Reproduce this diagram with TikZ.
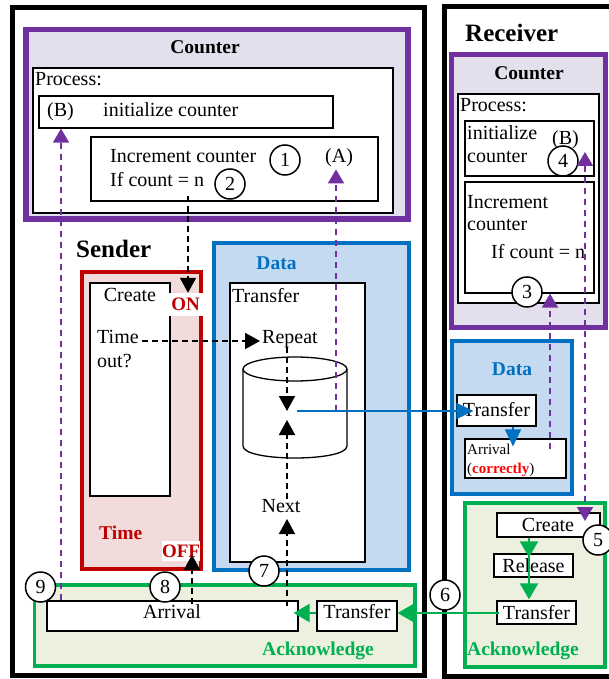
\documentclass[tikz,border=0pt]{standalone}
\usepackage{fontspec}
\setmainfont{Liberation Serif}
\usetikzlibrary{arrows.meta,fit,calc}
\definecolor{cpurple}{HTML}{7030A0}
\definecolor{clav}{HTML}{E4DFEC}
\definecolor{cred}{HTML}{C00000}
\definecolor{cpink}{HTML}{F2DCDB}
\definecolor{cblue}{HTML}{0070C0}
\definecolor{clblue}{HTML}{C5D9F1}
\definecolor{cgreen}{HTML}{00B050}
\definecolor{clgreen}{HTML}{EBF1DE}
\definecolor{cbright}{HTML}{FF0000}
\begin{document}
\begin{tikzpicture}[x=1pt,y=-1pt,
  frame/.style={draw=black, line width=5pt, inner sep=0pt},
  grp/.style={line width=4pt, inner sep=0pt},
  box/.style={draw=black, fill=white, line width=1.2pt, inner sep=0pt},
  num/.style={circle, draw=black, fill=white, line width=1.5pt, minimum size=30pt, inner sep=0pt, font=\fontsize{20}{20}\selectfont},
  txt/.style={inner sep=0pt, anchor=base west, font=\fontsize{20}{24}\selectfont},
  ctxt/.style={inner sep=0pt, anchor=base, font=\fontsize{20}{24}\selectfont},
  small/.style={inner sep=0pt, anchor=base west, font=\fontsize{15}{18}\selectfont},
  head/.style={inner sep=0pt, anchor=base west, font=\fontsize{19.5}{22}\selectfont\bfseries},
  title/.style={inner sep=0pt, anchor=base west, font=\fontsize{25}{30}\selectfont\bfseries},
  flag/.style={fill=white, inner sep=0pt, text=cred, font=\fontsize{19}{22}\selectfont\bfseries},
  blktip/.style={-{Triangle[width=16pt,length=15pt]}},
  purtip/.style={-{Triangle[width=16pt,length=14pt]}},
  blkdash/.style={draw=black, line width=1.8pt, dash pattern=on 6pt off 4pt, blktip},
  purdash/.style={draw=cpurple, line width=1.6pt, dash pattern=on 6pt off 5pt, purtip},
  bluearr/.style={draw=cblue, line width=1.6pt, -{Triangle[width=16pt,length=17pt]}},
  grnarr/.style={draw=cgreen, line width=2pt, -{Triangle[width=18pt,length=16pt]}},
]
\useasboundingbox (0,0) rectangle (608,679);
\fill[white] (0,0) rectangle (608,679);

% ---------------- outer frames ----------------
\node[frame, fit={(12,8) (424,675)}] (sender) {};
\node[frame, fit={(444,6.5) (625,676)}] (receiver) {};

% ---------------- sender: counter ----------------
\node[grp, draw=cpurple, fill=clav, line width=5.5pt, fit={(26,29.5) (408,219)}] (sCounter) {};
\node[head, anchor=base] (sCounterLbl) at (205,54) {Counter};
\node[box, fit={(33,68) (393,213)}] (sProc) {};
\node[txt] (sProcLbl) at (35,86) {Process:};
\node[box, fit={(39,96) (333,128)}] (sInit) {};
\node[txt] (sB) at (47,117) {(B)};
\node[txt] (sInitLbl) at (103,117) {initialize counter};
\node[box, fit={(91,137) (378,201)}] (sInc) {};
\node[txt] (sIncLbl) at (110,162) {Increment counter};
\node[txt] (sIf) at (110,186) {If count = n};
\node[txt] (sA) at (325,162) {(A)};
\node[num] (n1) at (285,160) {1};
\node[num] (n2) at (230,184) {2};

\node[title] (senderLbl) at (76,257) {Sender};

% ---------------- sender: time ----------------
\node[grp, draw=cred, fill=cpink, fit={(82,272) (201,569)}] (timeBox) {};
\node[box, fit={(90,283) (170,496)}] (sCreate) {};
\node[ctxt] (sCreateLbl) at (130,301) {Create};
\node[txt] (timeout1) at (97,343) {Time};
\node[txt] (timeout2) at (97,367) {out?};
\node[head, text=cred] (timeLbl) at (99,539) {Time};

% ---------------- sender: data ----------------
\node[grp, draw=cblue, fill=clblue, fit={(214,243) (409,570)}] (sData) {};
\node[head, text=cblue, anchor=base] (sDataLbl) at (276.5,269) {Data};
\node[box, fit={(230,283) (365,562)}] (sTrans) {};
\node[txt] (sTransLbl) at (232,302) {Transfer};
\node[txt] (repeat) at (262,343) {Repeat};
% buffer cylinder
\fill[white] (243,369) -- (243,446) .. controls (243,462) and (347,462) .. (347,446) -- (347,369) -- cycle;
\draw[line width=1.3pt] (243,369) -- (243,446) .. controls (243,462) and (347,462) .. (347,446) -- (347,369);
\draw[line width=1.3pt, fill=white] (295,369) ellipse [x radius=52, y radius=12];
\coordinate (cylC) at (295,411);
\node[ctxt] (next) at (281,512) {Next};

% ---------------- sender: acknowledge ----------------
\node[grp, draw=cgreen, fill=clgreen, line width=3.5pt, fit={(34.5,585) (415,666)}] (sAck) {};
\node[box, fit={(47,601) (298,631)}] (sArr) {};
\node[ctxt] (sArrLbl) at (172,618) {Arrival};
\node[box, fit={(317,601) (397,631)}] (sAckT) {};
\node[ctxt] (sAckTLbl) at (357,618) {Transfer};
\node[head, text=cgreen] (sAckLbl) at (262,655) {Acknowledge};

% timer switches
\node[flag, minimum width=35pt, minimum height=23pt] (ON) at (185.5,304.5) {ON};
\node[flag, minimum width=38pt, minimum height=20pt] (OFF) at (181,551) {OFF};

% ---------------- receiver ----------------
\node[title] (receiverLbl) at (465,42) {Receiver};
\node[grp, draw=cpurple, fill=clav, line width=5pt, fit={(451.5,54.5) (605,327.5)}] (rCounter) {};
\node[head, anchor=base] (rCounterLbl) at (529,80) {Counter};
\node[box, fit={(458,94) (599,303)}] (rProc) {};
\node[txt] (rProcLbl) at (460,112) {Process:};
\node[box, fit={(465,121) (594,176)}] (rInit) {};
\node[txt] (rInit1) at (467,140) {initialize};
\node[txt] (rInit2) at (467,162) {counter};
\node[txt] (rB) at (552,145) {(B)};
\node[box, fit={(465,182) (594,293)}] (rInc) {};
\node[txt] (rInc1) at (467,208) {Increment};
\node[txt] (rInc2) at (467,230) {counter};
\node[txt] (rIf) at (491,258) {If count = n};
\node[num] (n3) at (527,292) {3};
\node[num] (n4) at (563,161) {4};

\node[grp, draw=cblue, fill=clblue, fit={(452,341) (572,494)}] (rData) {};
\node[head, text=cblue, anchor=base] (rDataLbl) at (512,375) {Data};
\node[box, fit={(457,395) (536,426)}] (rTrans) {};
\node[ctxt] (rTransLbl) at (496.5,416) {Transfer};
\node[box, fit={(465,439) (566,478)}] (rArr) {};
\node[small] (rArr1) at (467,454) {Arrival};
\node[small] (rArr2) at (467,473) {(\textcolor{cbright}{\bfseries correctly})};

\node[grp, draw=cgreen, fill=clgreen, line width=3.5pt, fit={(465,503) (605,667)}] (rAck) {};
\node[box, fit={(497,513) (600,537)}] (rCreate) {};
\node[ctxt] (rCreateLbl) at (548,531) {Create};
\node[box, fit={(494,554) (573,577)}] (rRel) {};
\node[ctxt] (rRelLbl) at (533.5,572) {Release};
\node[box, fit={(497,601) (576,624)}] (rAckT) {};
\node[ctxt] (rAckTLbl) at (536.5,619) {Transfer};
\node[head, text=cgreen] (rAckLbl) at (467,655) {Acknowledge};

% ---------------- connectors ----------------
\coordinate (onX) at (188,0);
\draw[blkdash] ($(sInc.south -| onX)+(0,-6)$) -- (ON.north -| onX);
\draw[blkdash] ($(timeout1.base east)+(3,-2)$) -- ($(repeat.base west)+(-2,-2)$);
\coordinate (dX) at (287,0);
\draw[blkdash] (repeat.south -| dX) -- (cylC -| dX);
\draw[blkdash] (next.north -| dX) -- ($(cylC -| dX)+(0,9)$);
\draw[blkdash] ($(sArr.north -| dX)+(0,6)$) -- ($(next.base -| dX)+(0,7)$);
\coordinate (offX) at (192,0);
\draw[blkdash] ($(sArr.north -| offX)+(0,4)$) -- ($(OFF.north -| offX)+(0,14)$);

\coordinate (pB) at (61,0);
\draw[purdash] (sArr.north -| pB) -- (sInit.south -| pB);
\coordinate (pA) at (336,0);
\draw[purdash] (cylC -| pA) -- ($(sInc.north -| pA)+(0,33)$);
\coordinate (p3) at (550,0);
\draw[purdash] ($(rArr.north -| p3)+(0,11)$) -- (rInc.south -| p3);
\coordinate (rTop) at (585,152);
\coordinate (rBot) at (585,521);
\draw[purdash, {Triangle[width=16pt,length=14pt]}-{Triangle[width=16pt,length=14pt]}] (rTop) -- (rBot);

\draw[bluearr] ($(cylC)+(2,0)$) -- ($(rTrans.west |- cylC)+(17,0)$);
\coordinate (bX) at (513,0);
\draw[bluearr] (rTrans.south -| bX) -- ($(rArr.north -| bX)+(0,8)$);

\coordinate (gX) at (529,0);
\draw[grnarr] (rCreate.south -| gX) -- ($(rRel.north -| gX)+(0,4)$);
\draw[grnarr] (rRel.north -| gX) -- ($(rAckT.north -| gX)+(0,-1)$);
\coordinate (gY) at (0,613);
\draw[grnarr] ($(rAckT.west |- gY)+(3,0)$) -- (sAckT.east |- gY);
\draw[grnarr] (sAckT.west |- gY) -- ($(sArr.east |- gY)+(-5,0)$);

% ---------------- step numbers ----------------
\node[num] (n5) at (598,540) {5};
\node[num] (n6) at (445,595) {6};
\node[num] (n7) at (264,571) {7};
\node[num] (n8) at (165,587) {8};
\node[num] (n9) at (40.5,587) {9};
\end{tikzpicture}
\end{document}
